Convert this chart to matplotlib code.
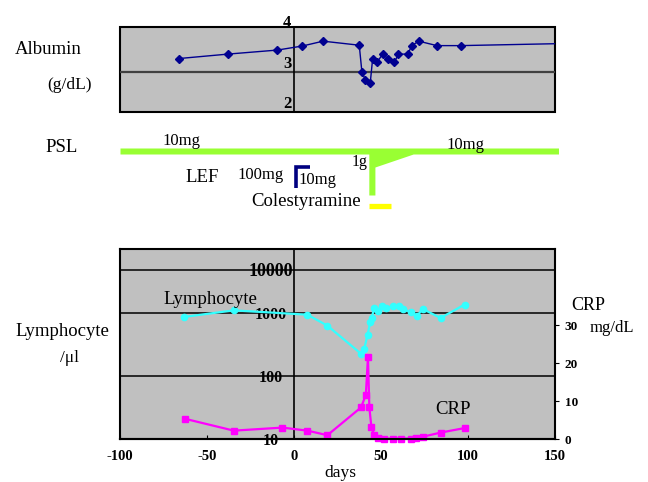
import numpy as np
import matplotlib
matplotlib.use('Agg')
import matplotlib.pyplot as plt

plt.rcParams['font.family'] = ['Liberation Serif', 'DejaVu Serif']

# ---- data ----
alb_days = [-66.3, -38.1, -9.6, 4.8, 16.7, 37.5, 39.0, 41.0, 43.8, 45.2, 47.7,
            51.0, 53.9, 57.7, 60.0, 65.4, 67.7, 71.7, 82.1, 95.7, 165]
alb_vals = [3.32, 3.43, 3.53, 3.63, 3.75, 3.65, 3.00, 2.79, 2.71, 3.32, 3.23,
            3.43, 3.32, 3.23, 3.43, 3.43, 3.64, 3.75, 3.64, 3.64, 3.70]

lym_days = [-63.5, -34.6, 7.7, 19.2, 38.5, 40.4, 42.3, 43.8, 44.6, 46.1, 48.1,
            50.4, 52.9, 56.7, 60.6, 62.5, 67.3, 70.8, 74.0, 84.2, 98.0]
lym_vals = [863, 1150, 940, 628, 224, 270, 451, 710, 832, 1300, 1090,
            1480, 1300, 1420, 1480, 1240, 1040, 906, 1240, 832, 1560]

crp_days = [-62.5, -34.6, -6.7, 7.7, 19.2, 38.5, 41.3, 42.5, 43.3, 44.5, 46.0,
            48.3, 51.9, 56.7, 61.5, 67.3, 70.2, 74.0, 84.4, 98.3]
crp_vals = [5.3, 2.2, 3.0, 2.2, 1.0, 8.3, 11.6, 21.6, 8.3, 3.1, 1.0,
            0.3, 0.1, 0.1, 0.1, 0.1, 0.3, 0.6, 1.7, 2.9]

# treatment schedule (days)
psl_span = (-100, 152)
psl_pulse = (43, 46.5)
psl_taper_end = 68.5
lef_start, lef_switch = 1.2, 9
chol_span = (43, 56)

x_ticks = [-100, -50, 0, 50, 100, 150]
alb_ticks = [2, 3, 4]
lym_ticks = [10, 100, 1000, 10000]
crp_ticks = [0, 10, 20, 30]

# the original lymphocyte axis has uneven decade spacing (top decade squeezed)
dec_log = [-6, 1, 2, 3, 4, 10]
dec_pos = [-1330, 0, 190, 378, 508, 1288]


def fwd(v):
    return np.interp(np.log10(np.maximum(v, 1e-6)), dec_log, dec_pos)


def inv(p):
    return 10 ** np.interp(p, dec_pos, dec_log)


W, H = 648, 482
fig = plt.figure(figsize=(W / 100, H / 100), dpi=100)


def box(left, top, right, bottom):
    return [left / W, 1 - bottom / H, (right - left) / W, (bottom - top) / H]


def ftext(px, py, s, **kw):
    fig.text(px / W, 1 - py / H, s, **kw)


gray = '#c0c0c0'

# ---- albumin panel ----
ax_t = fig.add_axes(box(120, 27, 555, 112))
ax_t.set_facecolor(gray)
ax_t.patch.set_edgecolor('black')
ax_t.patch.set_linewidth(1.5)
ax_t.set_xlim(-100, 150)
ax_t.set_ylim(2, 4.1)
ax_t.axhline(3, color='#404040', lw=1.6, zorder=1)
ax_t.plot(alb_days, alb_vals, color='#000090', lw=1.0, marker='D', ms=4, zorder=3)
for s in ['top', 'right', 'bottom']:
    ax_t.spines[s].set_visible(False)
ax_t.spines['left'].set_position(('data', 0))
ax_t.spines['left'].set_linewidth(1.2)
ax_t.set_xticks([])
ax_t.set_yticks(alb_ticks)
ax_t.set_yticklabels([str(v) for v in alb_ticks])
ax_t.tick_params(axis='y', length=0, pad=5, labelsize=12)
for lab in ax_t.get_yticklabels():
    lab.set_fontweight('bold')
    lab.set_verticalalignment('bottom')
    lab.set_horizontalalignment('center')

# ---- treatment strip ----
ax_m = fig.add_axes(box(120, 130, 555, 215))
ax_m.set_xlim(-100, 150)
ax_m.set_ylim(215, 130)
ax_m.axis('off')
psl_x = [psl_span[0], psl_pulse[0], psl_pulse[0], psl_pulse[1], psl_pulse[1],
         psl_taper_end, psl_span[1]]
low = [154, 154, 195, 195, 167, 154, 154]
ax_m.fill_between(psl_x, 148, low, color='#99ff33', lw=0, clip_on=False)
ax_m.plot([lef_start, lef_start, lef_switch], [188, 166.5, 166.5],
          color='#000080', lw=2.6, solid_joinstyle='miter', solid_capstyle='butt')
ax_m.plot(chol_span, [205.5, 205.5], color='#ffff00', lw=3.8, solid_capstyle='butt')
tkw = dict(fontsize=12, va='center')
ax_m.text(-64.4, 141, '10mg', ha='center', **tkw)
ax_m.text(98.4, 145, '10mg', ha='center', **tkw)
ax_m.text(37.9, 162, '1g', ha='center', fontsize=11.5, va='center')
ax_m.text(-53, 177, 'LEF', ha='center', fontsize=13.5, va='center')
ax_m.text(-19.2, 175, '100mg', ha='center', **tkw)
ax_m.text(2.7, 180, '10mg', ha='left', **tkw)
ax_m.text(38.5, 201, 'Colestyramine', ha='right', fontsize=13.5, va='center')

# ---- lymphocyte / CRP panel ----
ax_b = fig.add_axes(box(120, 249, 555, 439))
ax_c = ax_b.twinx()
ax_b.set_facecolor(gray)
ax_b.set_xlim(-100, 150)
ax_b.set_yscale('function', functions=(fwd, inv))
ax_b.set_ylim(10, inv(570))
ax_b.yaxis.set_major_locator(matplotlib.ticker.FixedLocator(lym_ticks))
ax_b.yaxis.set_minor_locator(matplotlib.ticker.NullLocator())
ax_b.yaxis.set_major_formatter(matplotlib.ticker.FixedFormatter([str(v) for v in lym_ticks]))
ax_b.yaxis.grid(True, color='black', lw=1.1)
ax_b.set_axisbelow(True)
ax_b.plot(lym_days, lym_vals, color='#33ffff', lw=1.6, marker='o', ms=4.5, zorder=3)
for s in ['top', 'right']:
    ax_b.spines[s].set_visible(False)
ax_b.spines['left'].set_position(('data', 0))
ax_b.spines['left'].set_linewidth(1.2)
ax_b.spines['bottom'].set_linewidth(1.5)
ax_b.tick_params(axis='y', length=0, pad=17, labelsize=11.5)
ax_b.set_xticks(x_ticks)
ax_b.set_xticklabels([str(v) for v in x_ticks])
ax_b.tick_params(axis='x', direction='in', length=3, pad=8, labelsize=10.5)

ax_c.set_ylim(0, 50)
ax_c.plot(crp_days, crp_vals, color='#ff00ff', lw=1.6, marker='s', ms=5, clip_on=False)
ax_c.set_yticks(crp_ticks)
ax_c.set_yticklabels([str(v) for v in crp_ticks])
ax_c.tick_params(axis='y', direction='out', length=3, pad=4, labelsize=9.5)
for s in ax_c.spines.values():
    s.set_linewidth(1.5)

fig.canvas.draw()
for lab in ax_b.get_yticklabels():
    lab.set_fontweight('bold')
    lab.set_horizontalalignment('center')
    if lab.get_text() == '10000':
        lab.set_fontsize(13)
for lab in ax_b.get_xticklabels() + ax_c.get_yticklabels():
    lab.set_fontweight('bold')

# ---- labels ----
ftext(15, 50, 'Albumin', fontsize=13.5, va='center')
ftext(47, 85, '(g/dL)', fontsize=12.5, va='center')
ftext(45, 148, 'PSL', fontsize=13.5, va='center')
ftext(15, 332, 'Lymphocyte', fontsize=13.5, va='center')
ftext(70, 358, '/μl', fontsize=12.5, va='center', ha='center')
ftext(163, 300, 'Lymphocyte', fontsize=13.5, va='center')
ftext(435, 409, 'CRP', fontsize=13.5, va='center')
ftext(571, 306, 'CRP', fontsize=13, va='center')
ftext(590, 328, 'mg/dL', fontsize=12, va='center')
ftext(340, 473, 'days', fontsize=12.5, va='center', ha='center')

fig.savefig('out.png', dpi=100)
